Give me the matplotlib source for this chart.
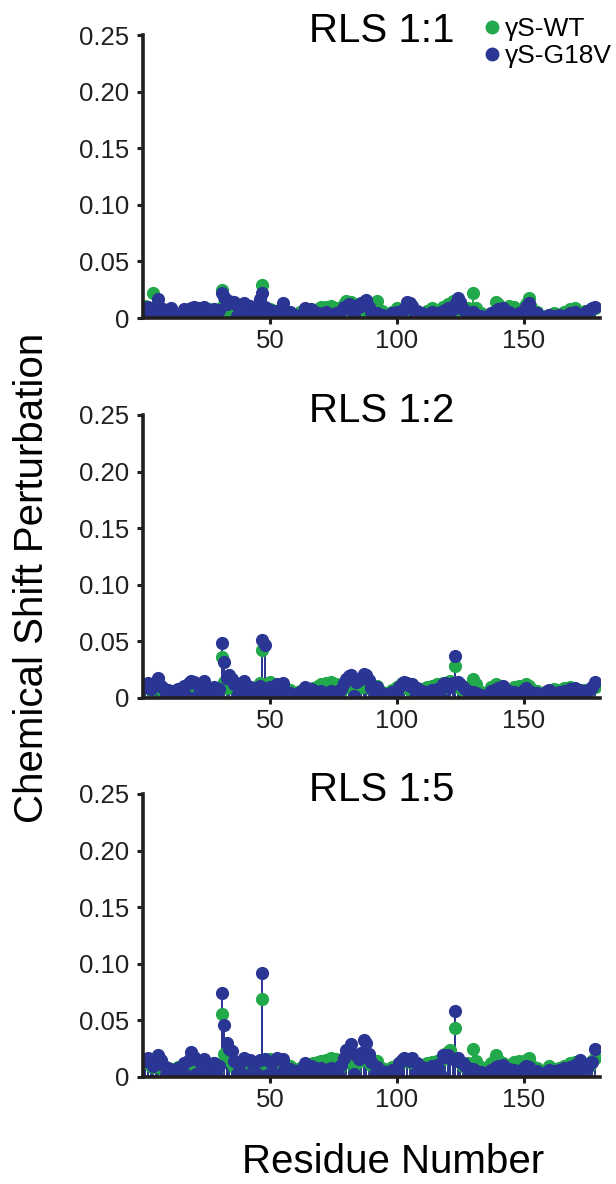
import matplotlib
matplotlib.use("Agg")
import matplotlib.pyplot as plt
from matplotlib.lines import Line2D
import numpy as np

plt.rcParams['font.family'] = ['Liberation Sans', 'DejaVu Sans']

# assigned residues with a visible shift (rows of 10)
residues = [
    1, 2, 3, 4, 5, 6, 7, 8, 10, 11,
    12, 14, 16, 18, 19, 20, 22, 23, 24, 26,
    27, 28, 30, 31, 32, 33, 34, 35, 36, 38,
    40, 42, 43, 44, 46, 47, 48, 50, 51, 53,
    55, 56, 58, 60, 62, 64, 66, 67, 69, 70,
    72, 74, 76, 78, 79, 80, 81, 82, 84, 85,
    86, 87, 88, 89, 90, 92, 94, 96, 98, 100,
    101, 102, 103, 104, 105, 106, 108, 110, 112, 114,
    116, 118, 119, 120, 121, 122, 123, 124, 125, 126,
    127, 128, 130, 131, 133, 137, 139, 140, 142, 144,
    146, 148, 150, 151, 152, 153, 155, 159, 160, 162,
    164, 166, 168, 170, 172, 174, 175, 176, 177, 178,
]

# residues sitting on the baseline
residues_low = [
    9, 13, 15, 17, 21, 25, 29, 37, 39, 41,
    45, 49, 52, 54, 57, 59, 61, 63, 65, 68,
    71, 73, 75, 77, 83, 91, 93, 95, 97, 99,
    107, 109, 111, 113, 115, 117, 129, 132, 138, 141,
    143, 145, 147, 149, 154, 161, 163, 165, 167, 169,
    171, 173,
]

# RLS 1:1
wt_11 = [
    .011, .006, .004, .022, .009, .008, .005, .007, .004, .003,
    .005, .003, .006, .004, .008, .007, .009, .006, .004, .008,
    .006, .005, .008, .025, .012, .007, .010, .008, .006, .004,
    .005, .007, .006, .009, .012, .029, .006, .008, .007, .004,
    .005, .003, .004, .002, .005, .006, .004, .007, .008, .010,
    .010, .011, .009, .004, .012, .015, .008, .014, .006, .012,
    .009, .007, .011, .013, .012, .015, .006, .003, .005, .009,
    .004, .006, .008, .007, .005, .008, .004, .003, .006, .009,
    .006, .010, .009, .012, .011, .015, .008, .010, .006, .008,
    .005, .009, .022, .009, .004, .003, .014, .012, .006, .011,
    .010, .004, .008, .012, .018, .010, .005, .002, .003, .004,
    .003, .005, .008, .009, .004, .006, .005, .007, .008, .009,
]
g18v_11 = [
    .006, .010, .004, .007, .009, .017, .006, .008, .005, .009,
    .004, .003, .008, .006, .009, .010, .009, .007, .010, .006,
    .005, .008, .007, .022, .019, .012, .015, .013, .014, .009,
    .013, .011, .006, .008, .017, .022, .010, .007, .004, .006,
    .013, .004, .005, .003, .002, .009, .008, .006, .004, .003,
    .005, .003, .004, .006, .010, .009, .012, .008, .011, .010,
    .013, .014, .016, .010, .005, .004, .003, .002, .004, .005,
    .003, .006, .008, .014, .013, .011, .006, .004, .003, .005,
    .004, .006, .007, .009, .005, .008, .012, .018, .014, .008,
    .006, .004, .005, .003, .002, .004, .006, .008, .009, .005,
    .003, .004, .007, .010, .013, .006, .004, .002, .003, .002,
    .003, .002, .004, .005, .003, .004, .006, .007, .009, .010,
]
wt_11_low = [
    .002, .001, .003, .002, .001, .002, .003, .001, .002, .003,
    .001, .002, .002, .001, .003, .002, .001, .002, .001, .003,
    .002, .001, .002, .003, .002, .001, .002, .001, .003, .002,
    .001, .002, .003, .001, .002, .001, .002, .003, .001, .002,
    .003, .001, .002, .001, .002, .001, .003, .002, .001, .002,
    .003, .001,
]
g18v_11_low = [
    .001, .002, .001, .001, .002, .001, .001, .002, .001, .001,
    .002, .001, .001, .002, .001, .001, .002, .001, .002, .001,
    .001, .002, .001, .001, .002, .001, .001, .002, .001, .001,
    .002, .001, .001, .002, .001, .002, .001, .001, .002, .001,
    .001, .002, .001, .002, .001, .001, .001, .002, .001, .001,
    .002, .001,
]

# RLS 1:2
wt_12 = [
    .012, .009, .007, .010, .011, .014, .008, .006, .005, .004,
    .006, .008, .010, .012, .009, .011, .008, .010, .006, .007,
    .008, .006, .009, .036, .014, .009, .012, .010, .008, .006,
    .009, .010, .007, .008, .013, .042, .011, .014, .010, .006,
    .008, .006, .007, .004, .006, .008, .006, .009, .011, .012,
    .013, .014, .012, .006, .013, .015, .010, .016, .008, .011,
    .010, .012, .013, .009, .008, .011, .005, .004, .007, .010,
    .011, .013, .012, .009, .007, .011, .006, .008, .010, .011,
    .012, .013, .010, .014, .015, .013, .028, .012, .009, .007,
    .008, .010, .017, .012, .005, .010, .012, .009, .007, .006,
    .010, .011, .009, .012, .011, .008, .006, .004, .006, .008,
    .007, .009, .010, .008, .006, .007, .005, .008, .009, .010,
]
g18v_12 = [
    .010, .013, .008, .012, .014, .018, .011, .009, .007, .006,
    .005, .008, .011, .013, .015, .014, .010, .012, .015, .009,
    .007, .010, .008, .049, .032, .018, .020, .017, .012, .009,
    .015, .010, .008, .009, .011, .051, .047, .010, .009, .012,
    .013, .006, .004, .003, .005, .010, .008, .007, .005, .006,
    .004, .006, .005, .008, .013, .017, .019, .020, .014, .016,
    .018, .021, .020, .016, .009, .010, .004, .003, .005, .007,
    .010, .012, .014, .013, .011, .012, .009, .006, .005, .007,
    .008, .012, .013, .011, .010, .013, .037, .014, .012, .010,
    .008, .006, .005, .004, .003, .006, .008, .009, .011, .006,
    .005, .004, .007, .009, .006, .005, .004, .006, .007, .004,
    .005, .006, .008, .009, .007, .006, .005, .008, .010, .014,
]
wt_12_low = [
    .003, .002, .004, .003, .002, .003, .004, .002, .003, .004,
    .002, .003, .003, .002, .004, .003, .002, .003, .002, .004,
    .003, .002, .003, .004, .003, .002, .003, .002, .004, .003,
    .002, .003, .004, .002, .003, .002, .003, .004, .002, .003,
    .004, .002, .003, .002, .003, .002, .004, .003, .002, .003,
    .004, .002,
]
g18v_12_low = [
    .002, .001, .002, .002, .001, .002, .001, .002, .002, .001,
    .002, .002, .001, .002, .002, .001, .002, .001, .002, .002,
    .001, .002, .002, .001, .002, .001, .002, .002, .001, .002,
    .001, .002, .002, .001, .002, .002, .001, .002, .001, .002,
    .002, .001, .002, .002, .001, .002, .001, .002, .002, .001,
    .002, .002,
]

# RLS 1:5
wt_15 = [
    .015, .012, .010, .009, .011, .013, .008, .007, .006, .005,
    .007, .009, .011, .010, .008, .012, .009, .011, .008, .010,
    .009, .012, .011, .056, .020, .015, .017, .012, .009, .008,
    .012, .013, .010, .011, .014, .069, .013, .016, .015, .009,
    .011, .008, .010, .006, .008, .010, .009, .012, .013, .014,
    .015, .017, .016, .010, .014, .016, .013, .018, .012, .014,
    .015, .017, .016, .013, .011, .014, .008, .006, .009, .011,
    .012, .013, .015, .014, .013, .015, .010, .011, .012, .013,
    .014, .016, .020, .022, .024, .018, .043, .016, .013, .010,
    .011, .012, .025, .014, .009, .012, .019, .015, .012, .010,
    .013, .014, .012, .015, .017, .011, .008, .006, .010, .007,
    .008, .010, .012, .013, .009, .010, .008, .011, .014, .017,
]
g18v_15 = [
    .014, .017, .012, .010, .013, .019, .015, .011, .008, .006,
    .005, .008, .012, .015, .022, .018, .014, .012, .016, .011,
    .009, .012, .010, .074, .046, .030, .025, .023, .014, .011,
    .017, .015, .012, .013, .015, .092, .016, .013, .012, .017,
    .016, .009, .007, .005, .006, .012, .010, .009, .007, .008,
    .006, .008, .007, .011, .017, .024, .022, .029, .019, .016,
    .021, .033, .030, .020, .013, .009, .005, .004, .006, .008,
    .012, .015, .017, .016, .014, .017, .012, .009, .008, .010,
    .011, .019, .018, .019, .017, .016, .058, .017, .013, .012,
    .010, .008, .007, .005, .004, .006, .009, .010, .011, .007,
    .006, .005, .008, .010, .009, .006, .005, .004, .006, .005,
    .006, .008, .009, .011, .015, .010, .008, .012, .013, .025,
]
wt_15_low = [
    .004, .003, .005, .004, .003, .004, .005, .003, .004, .005,
    .003, .004, .004, .003, .005, .004, .003, .004, .003, .005,
    .004, .003, .004, .005, .004, .003, .004, .003, .005, .004,
    .003, .004, .005, .003, .004, .003, .004, .005, .003, .004,
    .005, .003, .004, .003, .004, .003, .005, .004, .003, .004,
    .005, .003,
]
g18v_15_low = [
    .002, .003, .002, .002, .003, .002, .002, .003, .002, .002,
    .003, .002, .002, .003, .002, .002, .003, .002, .003, .002,
    .002, .003, .002, .002, .003, .002, .002, .003, .002, .002,
    .003, .002, .002, .003, .002, .003, .002, .002, .003, .002,
    .002, .003, .002, .003, .002, .002, .002, .003, .002, .002,
    .003, .002,
]

titles = ['RLS 1:1', 'RLS 1:2', 'RLS 1:5']
wt_sets = [(wt_11, wt_11_low), (wt_12, wt_12_low), (wt_15, wt_15_low)]
g18v_sets = [(g18v_11, g18v_11_low), (g18v_12, g18v_12_low), (g18v_15, g18v_15_low)]

green = '#22a94b'
blue = '#2b3594'
ink = '#231f20'

fig = plt.figure(figsize=(6.16, 11.84), dpi=100)
bottoms = [0.7314, 0.4105, 0.0904]
axes = [fig.add_axes([0.232, b, 0.742, 0.239]) for b in bottoms]

x_all = residues + residues_low

for ax, title, (wt, wt_low), (mut, mut_low) in zip(axes, titles, wt_sets, g18v_sets):
    wt_all = wt + wt_low
    mut_all = mut + mut_low
    ax.vlines(x_all, 0, wt_all, color=green, lw=1.4, zorder=1)
    ax.vlines(x_all, 0, mut_all, color=blue, lw=1.4, zorder=1)
    ax.plot(x_all, wt_all, 'o', color=green, ms=9.5, mew=0, zorder=2)
    ax.plot(x_all, mut_all, 'o', color=blue, ms=9.5, mew=0, zorder=3)

    ax.set_xlim(0, 180)
    ax.set_ylim(0, 0.25)
    ax.set_xticks([50, 100, 150])
    ax.set_yticks([0, 0.05, 0.10, 0.15, 0.20, 0.25])
    ax.set_yticklabels(['0', '0.05', '0.10', '0.15', '0.20', '0.25'])
    ax.tick_params(labelsize=18.5, width=2.2, length=4, color=ink, labelcolor=ink, pad=4)
    ax.tick_params(axis='y', pad=6)

    for side in ['top', 'right']:
        ax.spines[side].set_visible(False)
    for side in ['left', 'bottom']:
        ax.spines[side].set_linewidth(2.6)
        ax.spines[side].set_color(ink)
        ax.spines[side].set_zorder(5)

    ax.text(0.523, 1.015, title, transform=ax.transAxes, ha='center', va='center',
            fontsize=29, color='black')

handles = [
    Line2D([], [], marker='o', ls='', color=green, ms=10, mew=0),
    Line2D([], [], marker='o', ls='', color=blue, ms=10, mew=0),
]
fig.legend(handles, ['γS-WT', 'γS-G18V'], loc='upper left',
           bbox_to_anchor=(484 / 616, 1 - 17 / 1184), frameon=False,
           fontsize=19, handlelength=0.6, handletextpad=0.2,
           labelspacing=0.12, borderpad=0, borderaxespad=0)

fig.text(0.052, 0.512, 'Chemical Shift Perturbation', rotation=90,
         ha='center', va='center', fontsize=29, color='black')
fig.text(0.638, 1 - 1162 / 1184, 'Residue Number', ha='center', va='center',
         fontsize=29, color='black')

fig.savefig('out.png', dpi=100)
